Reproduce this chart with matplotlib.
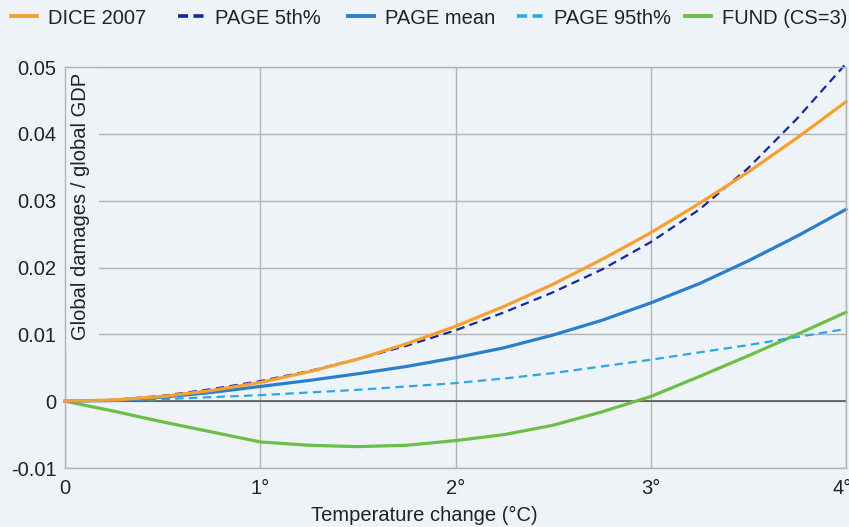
import matplotlib
matplotlib.use("Agg")
import matplotlib.pyplot as plt
from matplotlib.lines import Line2D
from matplotlib.transforms import ScaledTranslation

plt.rcParams['font.family'] = ['Liberation Sans', 'DejaVu Sans']

temperature = [0, 0.25, 0.5, 0.75, 1, 1.25, 1.5, 1.75, 2, 2.25, 2.5, 2.75, 3, 3.25, 3.5, 3.75, 4]
dice_2007 = [0, 0.00018, 0.0007, 0.0016, 0.0028, 0.0044, 0.0063, 0.0086, 0.0112, 0.0142,
             0.0175, 0.0212, 0.0252, 0.0296, 0.0343, 0.0394, 0.0448]
page_5th = [0, 0.0002, 0.0008, 0.0018, 0.0030, 0.0045, 0.0063, 0.0083, 0.0106, 0.0133,
            0.0163, 0.0197, 0.0238, 0.0287, 0.0349, 0.0423, 0.0505]
page_mean = [0, 0.0001, 0.0006, 0.0013, 0.0022, 0.0031, 0.0041, 0.0052, 0.0065, 0.0080,
             0.0099, 0.0121, 0.0147, 0.0176, 0.0210, 0.0247, 0.0287]
page_95th = [0, 0.0001, 0.0003, 0.0006, 0.0009, 0.0013, 0.0017, 0.0022, 0.0027, 0.0034,
             0.0042, 0.0052, 0.0062, 0.0073, 0.0084, 0.0096, 0.0108]
fund_cs3 = [0, -0.0015, -0.0031, -0.0046, -0.0061, -0.0066, -0.0068, -0.0066, -0.0059, -0.0050,
            -0.0036, -0.0016, 0.0007, 0.0037, 0.0068, 0.0100, 0.0133]

x_ticks = [0, 1, 2, 3, 4]
x_labels = ['0', '1°', '2°', '3°', '4°']
y_ticks = [-0.01, 0, 0.01, 0.02, 0.03, 0.04, 0.05]
y_labels = ['-0.01', '0', '0.01', '0.02', '0.03', '0.04', '0.05']

bg = '#eef3f8'
txt = '#222222'
fs = 14.5
fig = plt.figure(figsize=(8.49, 5.27), dpi=100, facecolor=bg)
ax = fig.add_axes([65/849, (527-468)/527, (846-65)/849, (468-67)/527])
ax.set_facecolor(bg)

series = [
    ('DICE 2007', dice_2007, '#f7a032', '-'),
    ('PAGE 5th%', page_5th, '#15289a', (0, (3.8, 2.4))),
    ('PAGE mean', page_mean, '#2b7fca', '-'),
    ('PAGE 95th%', page_95th, '#2aa9e3', (0, (3.8, 2.4))),
    ('FUND (CS=3)', fund_cs3, '#6cbf46', '-'),
]
ax.axhline(0, color='#555555', lw=1.2, zorder=1.8)
for i in [4, 3, 2, 1, 0]:
    name, vals, col, ls = series[i]
    ax.plot(temperature, vals, color=col, ls=ls, lw=2.3 if ls == '-' else 1.6,
            zorder=2 + 0.1 * (5 - i), clip_on=False)

ax.set_xlim(0, 4)
ax.set_ylim(-0.01, 0.05)
ax.set_xticks(x_ticks)
ax.set_xticklabels(x_labels)
ax.set_yticks(y_ticks)
ax.set_yticklabels(y_labels)
ax.tick_params(length=0, labelsize=fs, colors=txt)
ax.tick_params(axis='y', pad=6)
ax.tick_params(axis='x', pad=8)
last = ax.get_xticklabels()[-1]
last.set_transform(last.get_transform() + ScaledTranslation(-4/100, 0, fig.dpi_scale_trans))
ax.set_axisbelow(True)
ax.grid(True, color='#b3b3b3', lw=1)
for s in ax.spines.values():
    s.set_color('#b3b3b3')
    s.set_linewidth(1)
fig.text(0.5, 1 - 515/527, 'Temperature change (°C)', ha='center', va='center', fontsize=fs, color=txt)
ax.text(0.02, 0.985, 'Global damages / global GDP', transform=ax.transAxes, rotation=90,
        ha='center', va='top', fontsize=fs, color=txt, zorder=1,
        bbox=dict(boxstyle='square,pad=0.45', fc=bg, ec='none'))

leg_x = [11, 178, 348, 517, 685]
for (name, vals, col, ls), lx in zip(series, leg_x):
    if ls == '-':
        h = Line2D([], [], color=col, ls='-', lw=2.8)
    else:
        h = Line2D([], [], color=col, ls=(0, (2.8, 1.5)), lw=2.6)
    leg = fig.legend(handles=[h], labels=[name], loc='center left',
                     bbox_to_anchor=(lx / 849, 1 - 18 / 527), frameon=False,
                     fontsize=fs, handlelength=1.3, handletextpad=0.55, borderpad=0, borderaxespad=0)
    for t in leg.get_texts():
        t.set_color(txt)

fig.savefig('out.png', dpi=100, facecolor=bg)
